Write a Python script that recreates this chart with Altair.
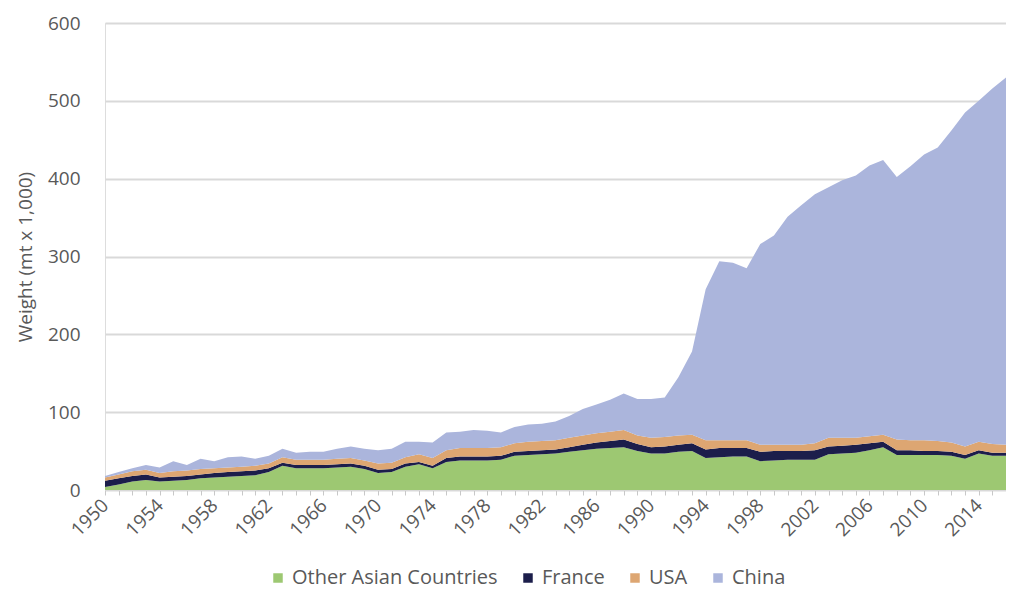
import altair as alt
import pandas as pd

years = list(range(1950, 2017))

other_asian = [4, 7, 11, 13, 11, 12, 13, 15, 16, 17,
               18, 19, 23, 31, 28, 28, 28, 29, 30, 27,
               22, 23, 30, 33, 28, 36, 38, 38, 38, 39,
               44, 45, 46, 47, 49, 51, 53, 54, 55, 50,
               47, 47, 49, 50, 41, 42, 43, 43, 37, 38,
               39, 39, 39, 46, 47, 48, 51, 55, 45, 45,
               45, 45, 44, 40, 47, 44, 44]
france = [8, 8, 7, 7, 5, 5, 5, 5, 6, 6,
          6, 6, 5, 4, 4, 4, 4, 4, 4, 4,
          4, 4, 4, 3, 3, 5, 5, 5, 5, 5,
          5, 5, 5, 5, 6, 7, 8, 9, 10, 9,
          8, 9, 9, 10, 11, 12, 11, 11, 12, 12,
          11, 11, 12, 10, 10, 10, 9, 7, 6, 6,
          5, 5, 5, 5, 4, 4, 4]
usa = [4, 5, 6, 6, 6, 7, 7, 7, 6, 6,
       6, 6, 6, 7, 7, 7, 7, 7, 7, 7,
       8, 8, 8, 10, 10, 10, 11, 11, 11, 11,
       11, 12, 12, 12, 12, 12, 12, 12, 12, 11,
       12, 12, 12, 11, 12, 10, 10, 10, 9, 8,
       8, 8, 9, 11, 10, 9, 9, 9, 14, 13,
       14, 13, 12, 11, 11, 11, 10]
china = [2, 3, 4, 6, 7, 13, 7, 13, 9, 13,
         13, 9, 10, 11, 9, 10, 10, 13, 15, 15,
         17, 18, 20, 16, 20, 23, 21, 23, 22, 19,
         21, 22, 22, 24, 28, 34, 37, 41, 47, 47,
         50, 51, 75, 107, 194, 230, 228, 221, 258, 269,
         293, 308, 320, 322, 331, 337, 348, 353, 337, 352,
         367, 377, 401, 429, 438, 457, 472]

series = ["Other Asian Countries", "France", "USA", "China"]
colors = ["#9DC872", "#1C1E4B", "#DDA672", "#ABB5DC"]
y_ticks = [0, 100, 200, 300, 400, 500, 600]

rows = []
for order, (name, vals) in enumerate(zip(series, [other_asian, france, usa, china])):
    for yr, v in zip(years, vals):
        rows.append({"Year": yr, "Series": name, "Weight": v, "Order": order})
df = pd.DataFrame(rows)

font = "Open Sans"
grey = "#595959"

chart = alt.Chart(df).mark_area(opacity=1).encode(
    x=alt.X(
        "Year:Q",
        scale=alt.Scale(domain=[1950, 2016], nice=False, zero=False),
        axis=alt.Axis(
            values=years,
            format="d",
            labelExpr="(datum.value - 1950) % 4 == 0 ? datum.label : ''",
            labelAngle=-45,
            labelAlign="right",
            labelBaseline="middle",
            labelOverlap=False,
            labelFlush=False,
            grid=False,
            tickSize=5,
            tickColor="#c8c8c8",
            domainColor="#d9d9d9",
            labelPadding=7,
            title=None,
            labelFontSize=19,
            labelColor=grey,
            labelFont=font,
        ),
    ),
    y=alt.Y(
        "Weight:Q",
        stack="zero",
        scale=alt.Scale(domain=[0, 600], nice=False),
        axis=alt.Axis(
            values=y_ticks,
            grid=True,
            gridColor="#d9d9d9",
            gridWidth=2,
            domain=False,
            ticks=False,
            labelPadding=25,
            labelFontSize=19,
            labelColor=grey,
            labelFont=font,
            title="Weight (mt x 1,000)",
            titlePadding=12,
            titleFontSize=19,
            titleFontWeight="normal",
            titleColor=grey,
            titleFont=font,
        ),
    ),
    color=alt.Color(
        "Series:N",
        scale=alt.Scale(domain=series, range=colors),
        sort=series,
        legend=alt.Legend(
            orient="none",
            legendX=163,
            legendY=545,
            direction="horizontal",
            title=None,
            symbolType="square",
            symbolSize=90,
            symbolStrokeWidth=0,
            symbolOpacity=1,
            labelFontSize=20,
            labelFont=font,
            labelColor=grey,
            labelOffset=4,
            labelLimit=0,
            columnPadding=20,
        ),
    ),
    order=alt.Order("Order:Q", sort="ascending"),
).properties(
    width=901,
    height=467,
    autosize=alt.AutoSizeParams(type="none"),
    padding={"left": 97, "top": 15, "right": 0, "bottom": 110},
).configure_view(stroke=None).configure(background="white")

chart.save("out.html", embed_options={"renderer": "svg", "actions": False})
